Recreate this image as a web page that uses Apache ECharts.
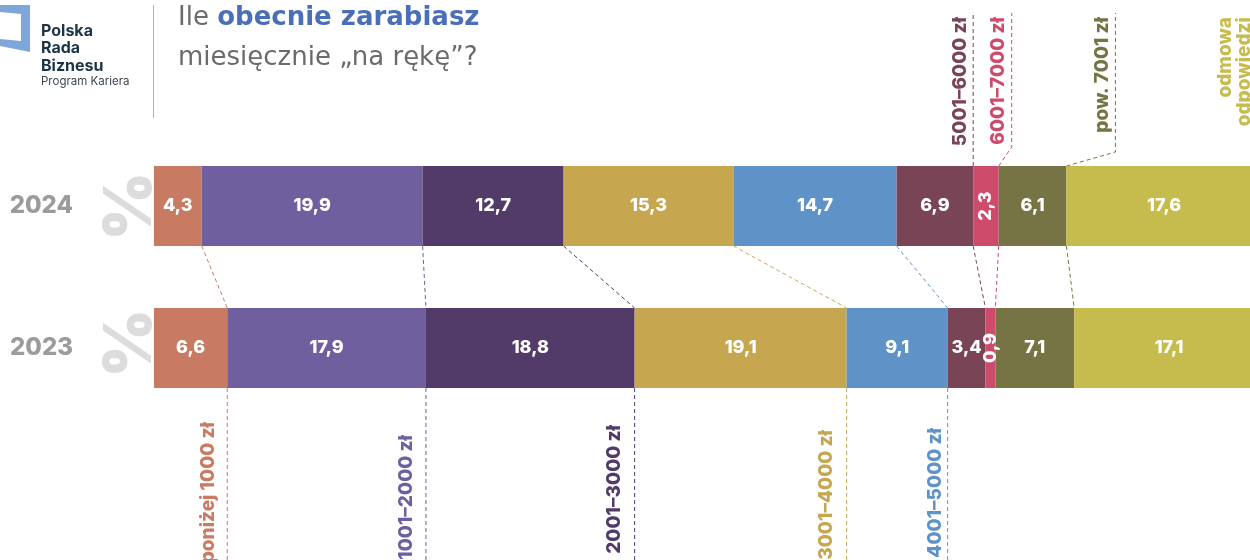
<!DOCTYPE html>
<html><head><meta charset="utf-8">
<script src="https://cdn.jsdelivr.net/npm/echarts@6/dist/echarts.min.js"></script>
<style>html,body{margin:0;padding:0;background:#fff}#c{width:1250px;height:560px}</style>
</head><body><div id="c"></div>
<script>
// ---- data ----
const years = ['2024', '2023'];
const categories = ['poniżej 1000 zł', '1001–2000 zł', '2001–3000 zł', '3001–4000 zł', '4001–5000 zł', '5001–6000 zł', '6001–7000 zł', 'pow. 7001 zł', 'odmowa\nodpowiedzi'];
const values2024 = [4.3, 19.9, 12.7, 15.3, 14.7, 6.9, 2.3, 6.1, 17.6];
const values2023 = [6.6, 17.9, 18.8, 19.1, 9.1, 3.4, 0.9, 7.1, 17.1];
const titleBold = 'obecnie zarabiasz';
const titleLine1 = 'Ile ';
const titleLine2 = 'miesięcznie „na rękę”?';
const logoLines = ['Polska', 'Rada', 'Biznesu'];
const logoSub = 'Program Kariera';

// ---- styles ----
const colors = ['#C97A62', '#6F5F9E', '#523B69', '#C6A74F', '#5F93C8', '#794455', '#CD4B6B', '#767344', '#C6BC4D'];
const BAR_W = 80;
const FONT = 'Inter';

const chart = echarts.init(document.getElementById('c'), null, {renderer: 'canvas'});

const series = categories.map((name, i) => ({
  type: 'bar', name, stack: 'total', barWidth: BAR_W,
  itemStyle: {color: colors[i]},
  emphasis: {disabled: true},
  data: [values2024[i], values2023[i]].map(v => ({value: v, label: v < 3 ? {rotate: 90} : {}})),
  label: {
    show: true, position: 'inside', color: '#fff', fontFamily: FONT, fontWeight: 800, fontSize: 18,
    formatter: p => Number(p.value).toFixed(1).replace('.', ',')
  }
}));

chart.setOption({
  animation: false,
  grid: {left: 154, top: 135, width: 1110, height: 284, outerBoundsMode: 'none', containLabel: false},
  xAxis: {type: 'value', min: 0, max: 100, show: false},
  yAxis: {
    type: 'category', data: years, inverse: true,
    axisLine: {show: false}, axisTick: {show: false}, splitLine: {show: false},
    axisLabel: {margin: 81, fontSize: 24, fontWeight: 800, color: '#9B9B9B', fontFamily: FONT, padding: [9, 0, 0, 0]}
  },
  series
});

// ---- leader lines & labels computed from the chart's scales ----
const cum = arr => { let s = 0; return arr.map(v => (s += v)); };
const cum24 = cum(values2024), cum23 = cum(values2023);
const px = (v, row) => chart.convertToPixel({gridIndex: 0}, [v, years[row]]);
const yMid24 = px(0, 0)[1], yMid23 = px(0, 1)[1];
const top24 = yMid24 - BAR_W / 2, bot24 = yMid24 + BAR_W / 2;
const top23 = yMid23 - BAR_W / 2, bot23 = yMid23 + BAR_W / 2;

const g = [];
const dash = (pts, color) => g.push({type: 'polyline', silent: true, shape: {points: pts},
  style: {stroke: color, lineWidth: 1, lineDash: [4, 3], fill: null}});
const vtext = (x, y, text, color) => g.push({type: 'text', silent: true, x, y, rotation: Math.PI / 2,
  style: {text, x: 0, y: 0, fill: color, font: `800 19px ${FONT}`, align: 'right', verticalAlign: 'middle', lineHeight: 19}});

// connectors between 2024 and 2023 bars
for (let i = 0; i < 8; i++) {
  dash([[px(cum24[i], 0)[0], bot24], [px(cum23[i], 1)[0], top23]], colors[i]);
}
// bottom leaders (categories 0..4)
const botOffset = [-19, -20, -20, -20, -12];
const botTop = [422, 435, 425, 430, 428];
for (let i = 0; i < 5; i++) {
  const x = px(cum23[i], 1)[0];
  dash([[x, bot23], [x, 560]], colors[i]);
  vtext(x + botOffset[i], botTop[i], categories[i], colors[i]);
}
// top leaders (categories 5..7)
const elbowDx = {5: 0, 6: 13, 7: 49};
const elbowDy = {5: 0, 6: 19, 7: 14};
for (let i = 5; i < 8; i++) {
  const x = px(cum24[i], 0)[0];
  const ex = x + elbowDx[i];
  dash([[x, top24], [ex, top24 - elbowDy[i]], [ex, 13]], colors[i]);
  vtext(ex - 13, 17, categories[i], colors[i]);
}
// refusal label
vtext(px(cum24[7], 0)[0] + 168, 17, categories[8], colors[8]);

// big % signs
[yMid24, yMid23 - 5].forEach(y => g.push({type: 'text', silent: true, x: 131, y, rotation: Math.PI / 2,
  style: {text: '%', x: 0, y: 0, fill: '#DCDCDC', font: `900 66px ${FONT}`, align: 'center', verticalAlign: 'middle'}}));

// title
g.push({type: 'text', silent: true, style: {x: 178, y: 18, verticalAlign: 'middle', align: 'left',
  text: `{a|${titleLine1}}{b|${titleBold}}`,
  rich: {a: {fontFamily: 'DejaVu Sans', fontSize: 26, fill: '#6B6B6B', color: '#6B6B6B'},
         b: {fontFamily: 'DejaVu Sans', fontSize: 26, fontWeight: 'bold', fill: '#4A6EB8', color: '#4A6EB8'}}}});
g.push({type: 'text', silent: true, style: {x: 178, y: 58, verticalAlign: 'middle', align: 'left',
  text: titleLine2, fill: '#6B6B6B', font: `26px "DejaVu Sans"`}});

// logo
g.push({type: 'polygon', silent: true, shape: {points: [[0, 5], [30, 5], [30, 52], [0, 46]]}, style: {fill: '#7EA6D8'}});
g.push({type: 'polygon', silent: true, shape: {points: [[0, 12], [21, 14], [21, 41], [0, 39]]}, style: {fill: '#fff'}});
logoLines.forEach((t, k) => g.push({type: 'text', silent: true, style: {x: 41, y: 31 + k * 17.5, text: t,
  fill: '#1D3346', font: `700 16px ${FONT}`, verticalAlign: 'middle'}}));
g.push({type: 'text', silent: true, style: {x: 41, y: 82, text: logoSub, fill: '#3C4650', font: `400 11.5px ${FONT}`, verticalAlign: 'middle'}});
g.push({type: 'line', silent: true, shape: {x1: 153.5, y1: 5, x2: 153.5, y2: 118}, style: {stroke: '#9FB4D4', lineWidth: 1}});

chart.setOption({graphic: {elements: g}});
</script>
</body></html>
